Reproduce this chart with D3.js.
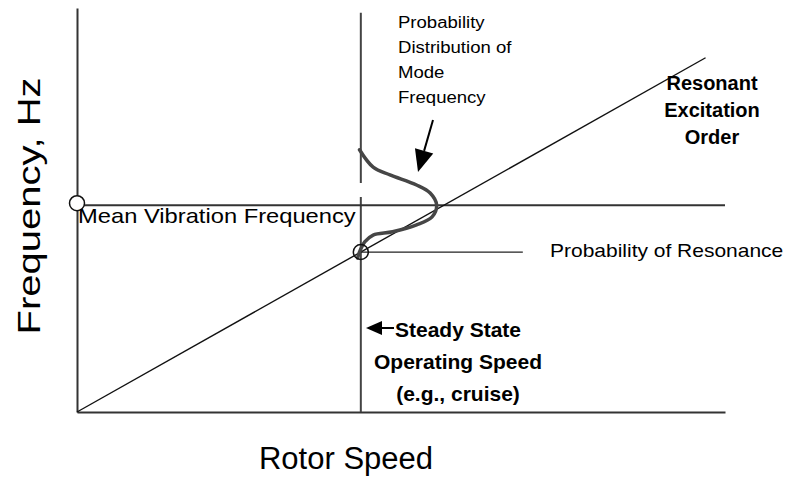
<!DOCTYPE html>
<html><head><meta charset="utf-8">
<script src="https://cdn.jsdelivr.net/npm/d3@7"></script>
<style>html,body{margin:0;padding:0;background:#fff}svg{display:block}</style>
</head><body>
<script>
// ---- data ----
const speedDomain = [0, 100];
const freqDomain = [0, 100];
const operatingSpeed = 43.8;
const meanFrequency = 51.2;
const excitationOrder = 0.904;           // frequency per unit rotor speed
const orderLineEndSpeed = 97;
const operatingLineTop = 98.8;
const resonanceLineEnd = 68.8;
const distFreq =    [64.9, 60.6, 58.7, 56.2, 54.2, 51.2, 48.3, 46.3, 44.6, 43.8, 42.1, 39.6, 38.1];
const distDensity = [-0.2, 1.9, 4.5, 8.6, 10.7, 11.7, 11.0, 8.6, 4.9, 1.9, 0.6, -0.2, -0.5];
const distLabel = ["Probability", "Distribution of", "Mode", "Frequency"];
const orderLabel = ["Resonant", "Excitation", "Order"];
const speedLabel = ["Steady State", "Operating Speed", "(e.g., cruise)"];

const W = 787, H = 477;
const FONT = "'Liberation Sans', Arial, Helvetica, sans-serif";
const svg = d3.select("body").append("svg").attr("width", W).attr("height", H);
const x = d3.scaleLinear().domain(speedDomain).range([77, 725]);
const y = d3.scaleLinear().domain(freqDomain).range([412, 8]);

// axes (no ticks)
svg.append("g").attr("transform", `translate(0,${y(0)})`)
  .call(d3.axisBottom(x).ticks(0).tickSizeOuter(0))
  .call(g => g.select(".domain").attr("stroke", "#333").attr("stroke-width", 2));
svg.append("g").attr("transform", `translate(${x(0)},0)`)
  .call(d3.axisLeft(y).ticks(0).tickSizeOuter(0))
  .call(g => g.select(".domain").attr("stroke", "#333").attr("stroke-width", 2));

// operating speed vertical line
svg.append("line").attr("x1", x(operatingSpeed)).attr("x2", x(operatingSpeed))
  .attr("y1", y(0)).attr("y2", y(operatingLineTop)).attr("stroke", "#444").attr("stroke-width", 2);
// small gap in vertical line
svg.append("rect").attr("x", x(operatingSpeed) - 3).attr("y", 183).attr("width", 6).attr("height", 14).attr("fill", "#fff");

// mean frequency horizontal
svg.append("line").attr("x1", x(0)).attr("x2", x(100))
  .attr("y1", y(meanFrequency)).attr("y2", y(meanFrequency)).attr("stroke", "#333").attr("stroke-width", 2);

// resonance frequency horizontal
const resFreq = excitationOrder * operatingSpeed;
svg.append("line").attr("x1", x(operatingSpeed)).attr("x2", x(resonanceLineEnd))
  .attr("y1", y(resFreq)).attr("y2", y(resFreq)).attr("stroke", "#222").attr("stroke-width", 1.3);

// excitation order line
svg.append("line").attr("x1", x(0)).attr("y1", y(0))
  .attr("x2", x(orderLineEndSpeed)).attr("y2", y(excitationOrder * orderLineEndSpeed))
  .attr("stroke", "#111").attr("stroke-width", 1.4);

// distribution curve
const pts = distFreq.map((f, i) => [x(operatingSpeed + distDensity[i]), y(f)]);
svg.append("path").attr("d", d3.line().curve(d3.curveCatmullRom)(pts))
  .attr("fill", "none").attr("stroke", "#464646").attr("stroke-width", 3.5).attr("stroke-linecap", "round");

// circles
svg.append("circle").attr("cx", x(0)).attr("cy", y(meanFrequency) - 2).attr("r", 7.5)
  .attr("fill", "#fff").attr("stroke", "#111").attr("stroke-width", 1.5);
svg.append("circle").attr("cx", x(operatingSpeed)).attr("cy", y(resFreq)).attr("r", 7.5)
  .attr("fill", "none").attr("stroke", "#111").attr("stroke-width", 1.5);

// arrows
function arrow(x1, y1, x2, y2, headLen, headW, lw) {
  const a = Math.atan2(y2 - y1, x2 - x1);
  const bx = x2 - headLen * Math.cos(a), by = y2 - headLen * Math.sin(a);
  svg.append("line").attr("x1", x1).attr("y1", y1).attr("x2", bx).attr("y2", by)
    .attr("stroke", "#000").attr("stroke-width", lw);
  const px = -Math.sin(a) * headW / 2, py = Math.cos(a) * headW / 2;
  svg.append("path").attr("d", `M${x2},${y2}L${bx + px},${by + py}L${bx - px},${by - py}Z`).attr("fill", "#000");
}
arrow(433, 120, 418, 172, 22, 19, 2);
arrow(394, 328, 366, 328, 16, 14, 2);

// text helper
function label(t, tx, ty, size, opts = {}) {
  const g = svg.append("g").attr("transform", `translate(${tx},${ty})${opts.rot ? ` rotate(${opts.rot})` : ""} scale(${opts.sx || 1},1)`);
  g.append("text").text(t).attr("font-family", FONT).attr("font-size", size)
    .attr("font-weight", opts.bold ? "bold" : "normal").attr("text-anchor", opts.anchor || "start").attr("fill", "#000");
}
distLabel.forEach((t, i) => label(t, 398, 28 + i * 25, 16, { sx: 1.16 }));
label("Mean Vibration Frequency", 78, 223, 21, { sx: 1.13 });
label("Probability of Resonance", 550, 257, 17.5, { sx: 1.2 });
orderLabel.forEach((t, i) => label(t, 712, 90 + i * 27, 20, { bold: true, anchor: "middle" }));
speedLabel.forEach((t, i) => label(t, 458, 337 + i * 32, 21, { bold: true, anchor: "middle" }));
label("Frequency, Hz", 40, 206, 32, { rot: -90, anchor: "middle", sx: 1.25 });
label("Rotor Speed", 346, 469, 31, { anchor: "middle" });
</script>
</body></html>
